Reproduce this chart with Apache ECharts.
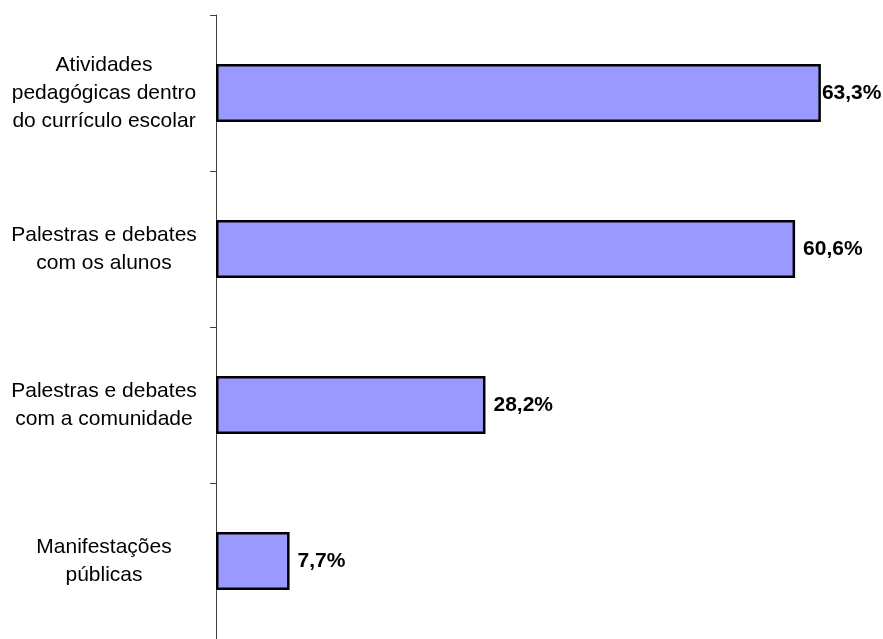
<!DOCTYPE html>
<html>
<head>
<meta charset="utf-8">
<script src="https://cdn.jsdelivr.net/npm/echarts@6/dist/echarts.min.js"></script>
<style>html,body{margin:0;padding:0;background:#fff;}#c{width:883px;height:639px;}</style>
</head>
<body>
<div id="c"></div>
<script>
var categories = [
  "Atividades\npedagógicas dentro\ndo currículo escolar",
  "Palestras e debates\ncom os alunos",
  "Palestras e debates\ncom a comunidade",
  "Manifestações\npúblicas"
];
var values = [63.3, 60.6, 28.2, 7.7];
var valueLabels = ["63,3%", "60,6%", "28,2%", "7,7%"];

var chart = echarts.init(document.getElementById('c'), null, {renderer: 'canvas'});
chart.setOption({
  animation: false,
  grid: {left: 216, right: 0, top: 15, bottom: -2, containLabel: false},
  xAxis: {type: 'value', min: 0, max: 69.8, show: false},
  yAxis: {
    type: 'category',
    inverse: true,
    data: categories,
    axisLine: {show: true, lineStyle: {color: '#404040', width: 1}},
    axisTick: {show: true, length: 6, lineStyle: {color: '#404040'}},
    axisLabel: {
      align: 'center', margin: 112,
      fontFamily: 'Liberation Sans, Arial, sans-serif', fontSize: 21,
      lineHeight: 28, color: '#000'
    }
  },
  series: [{
    type: 'bar',
    data: values.map(function (v, i) {
      return {value: v, label: {distance: i === 0 ? 1 : 8}};
    }),
    barWidth: 58,
    itemStyle: {color: '#9999FF', borderColor: '#000', borderWidth: 2.5},
    label: {
      show: true, position: 'right',
      formatter: function (p) { return valueLabels[p.dataIndex]; },
      fontFamily: 'Liberation Sans, Arial, sans-serif', fontSize: 21,
      fontWeight: 'bold', color: '#000'
    }
  }]
});
</script>
</body>
</html>
